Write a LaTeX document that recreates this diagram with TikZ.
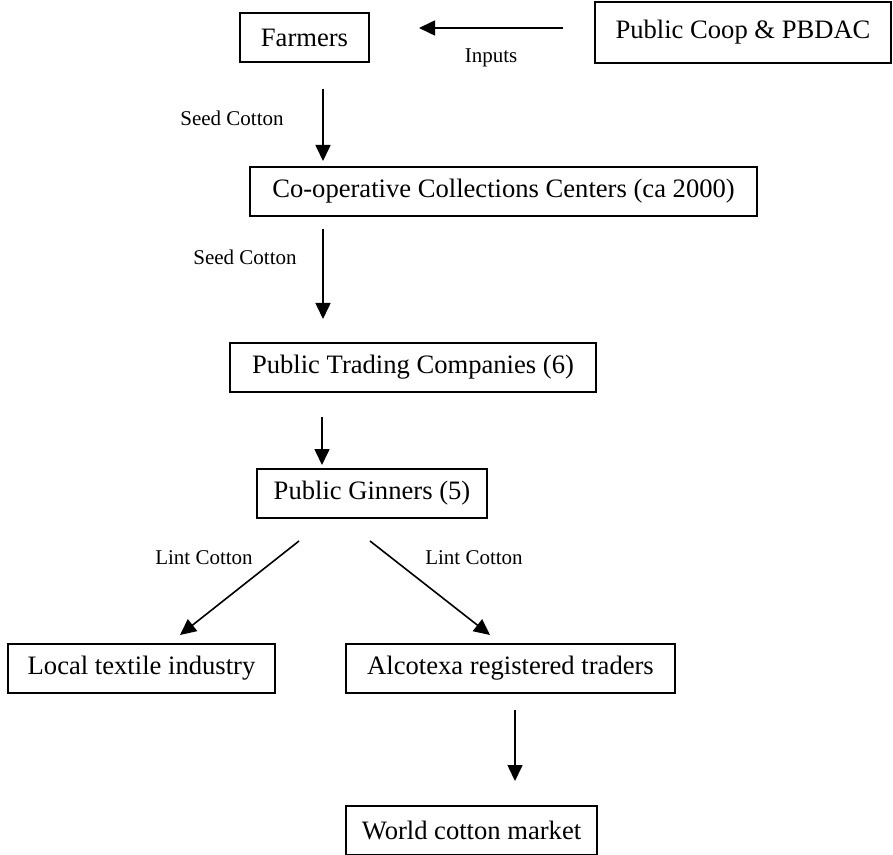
\documentclass[tikz,border=0pt]{standalone}
\usepackage{fontspec}
\setmainfont{Liberation Serif}
\usepackage{tikz}
\usetikzlibrary{positioning,arrows.meta}
\tikzset{
  cc box/.style={
    rectangle,
    draw=black,
    line width=0.8pt,
    minimum height=24.5pt,
    inner sep=0pt,
    outer sep=0pt,
    font=\fontsize{13.3pt}{16pt}\selectfont,
  },
  cc label/.style={
    inner sep=0pt,
    font=\fontsize{10.5pt}{12pt}\selectfont,
  },
  cc arrow/.style={-{Triangle[length=8pt,width=7.5pt]}, line width=0.8pt},
}

\begin{document}
\begin{tikzpicture}[x=0.5pt,y=-0.5pt]
  \useasboundingbox (0,0) rectangle (893,855);

  \node[cc box,minimum width=64.5pt] (farmers) at (304.5,37.5) {Farmers};
  \node[cc box,minimum width=148pt,minimum height=30.5pt,right=113pt of farmers,yshift=2.5pt] (pbdac) {Public Coop \& PBDAC};

  \node[cc box,minimum width=253.5pt,below=52.5pt of farmers,xshift=99.5pt] (centers) {Co-operative Collections Centers (ca 2000)};
  \node[cc box,minimum width=183pt,below=63.5pt of centers,xshift=-45.25pt] (trading) {Public Trading Companies (6)};
  \node[cc box,minimum width=115pt,below=38.5pt of trading,xshift=-20.5pt] (ginners) {Public Ginners (5)};
  \node[cc box,minimum width=133.5pt,below=63pt of ginners,xshift=-115.25pt] (textile) {Local textile industry};
  \node[cc box,minimum width=164.5pt,below=63pt of ginners,xshift=69.25pt] (alcotexa) {Alcotexa registered traders};
  \node[cc box,minimum width=125.5pt,below=56.5pt of alcotexa,xshift=-19.5pt] (world) {World cotton market};

  \draw[cc arrow] ([xshift=-16pt,yshift=2.25pt]pbdac.west) -- ([xshift=25pt,yshift=4.75pt]farmers.east)
    node[cc label,midway,yshift=-15pt] (inputs) {Inputs};
  \draw[cc arrow] ([xshift=9.25pt,yshift=-13.5pt]farmers.south) -- ([xshift=-90.25pt,yshift=3pt]centers.north)
    node[cc label,midway,xshift=-45.5pt,yshift=3.5pt] (seed1) {Seed Cotton};
  \draw[cc arrow] ([xshift=-90.25pt,yshift=-6.5pt]centers.south) -- ([xshift=-45pt,yshift=12pt]trading.north)
    node[cc label,midway,xshift=-39pt,yshift=8.5pt] (seed2) {Seed Cotton};
  \draw[cc arrow] ([xshift=-45.5pt,yshift=-12.5pt]trading.south) -- ([xshift=-25pt,yshift=2pt]ginners.north);
  \draw[cc arrow] ([xshift=-36.5pt,yshift=-11.5pt]ginners.south) -- ([xshift=19.25pt,yshift=4.5pt]textile.north)
    node[cc label,midway,xshift=-17.75pt,yshift=15.25pt] (lint1) {Lint Cotton};
  \draw[cc arrow] ([xshift=-1pt,yshift=-11.5pt]ginners.south) -- ([xshift=-10.25pt,yshift=4.5pt]alcotexa.north)
    node[cc label,midway,xshift=22pt,yshift=15.25pt] (lint2) {Lint Cotton};
  \draw[cc arrow] ([xshift=2.25pt,yshift=-8.5pt]alcotexa.south) -- ([xshift=21.75pt,yshift=12.5pt]world.north);
\end{tikzpicture}
\end{document}
